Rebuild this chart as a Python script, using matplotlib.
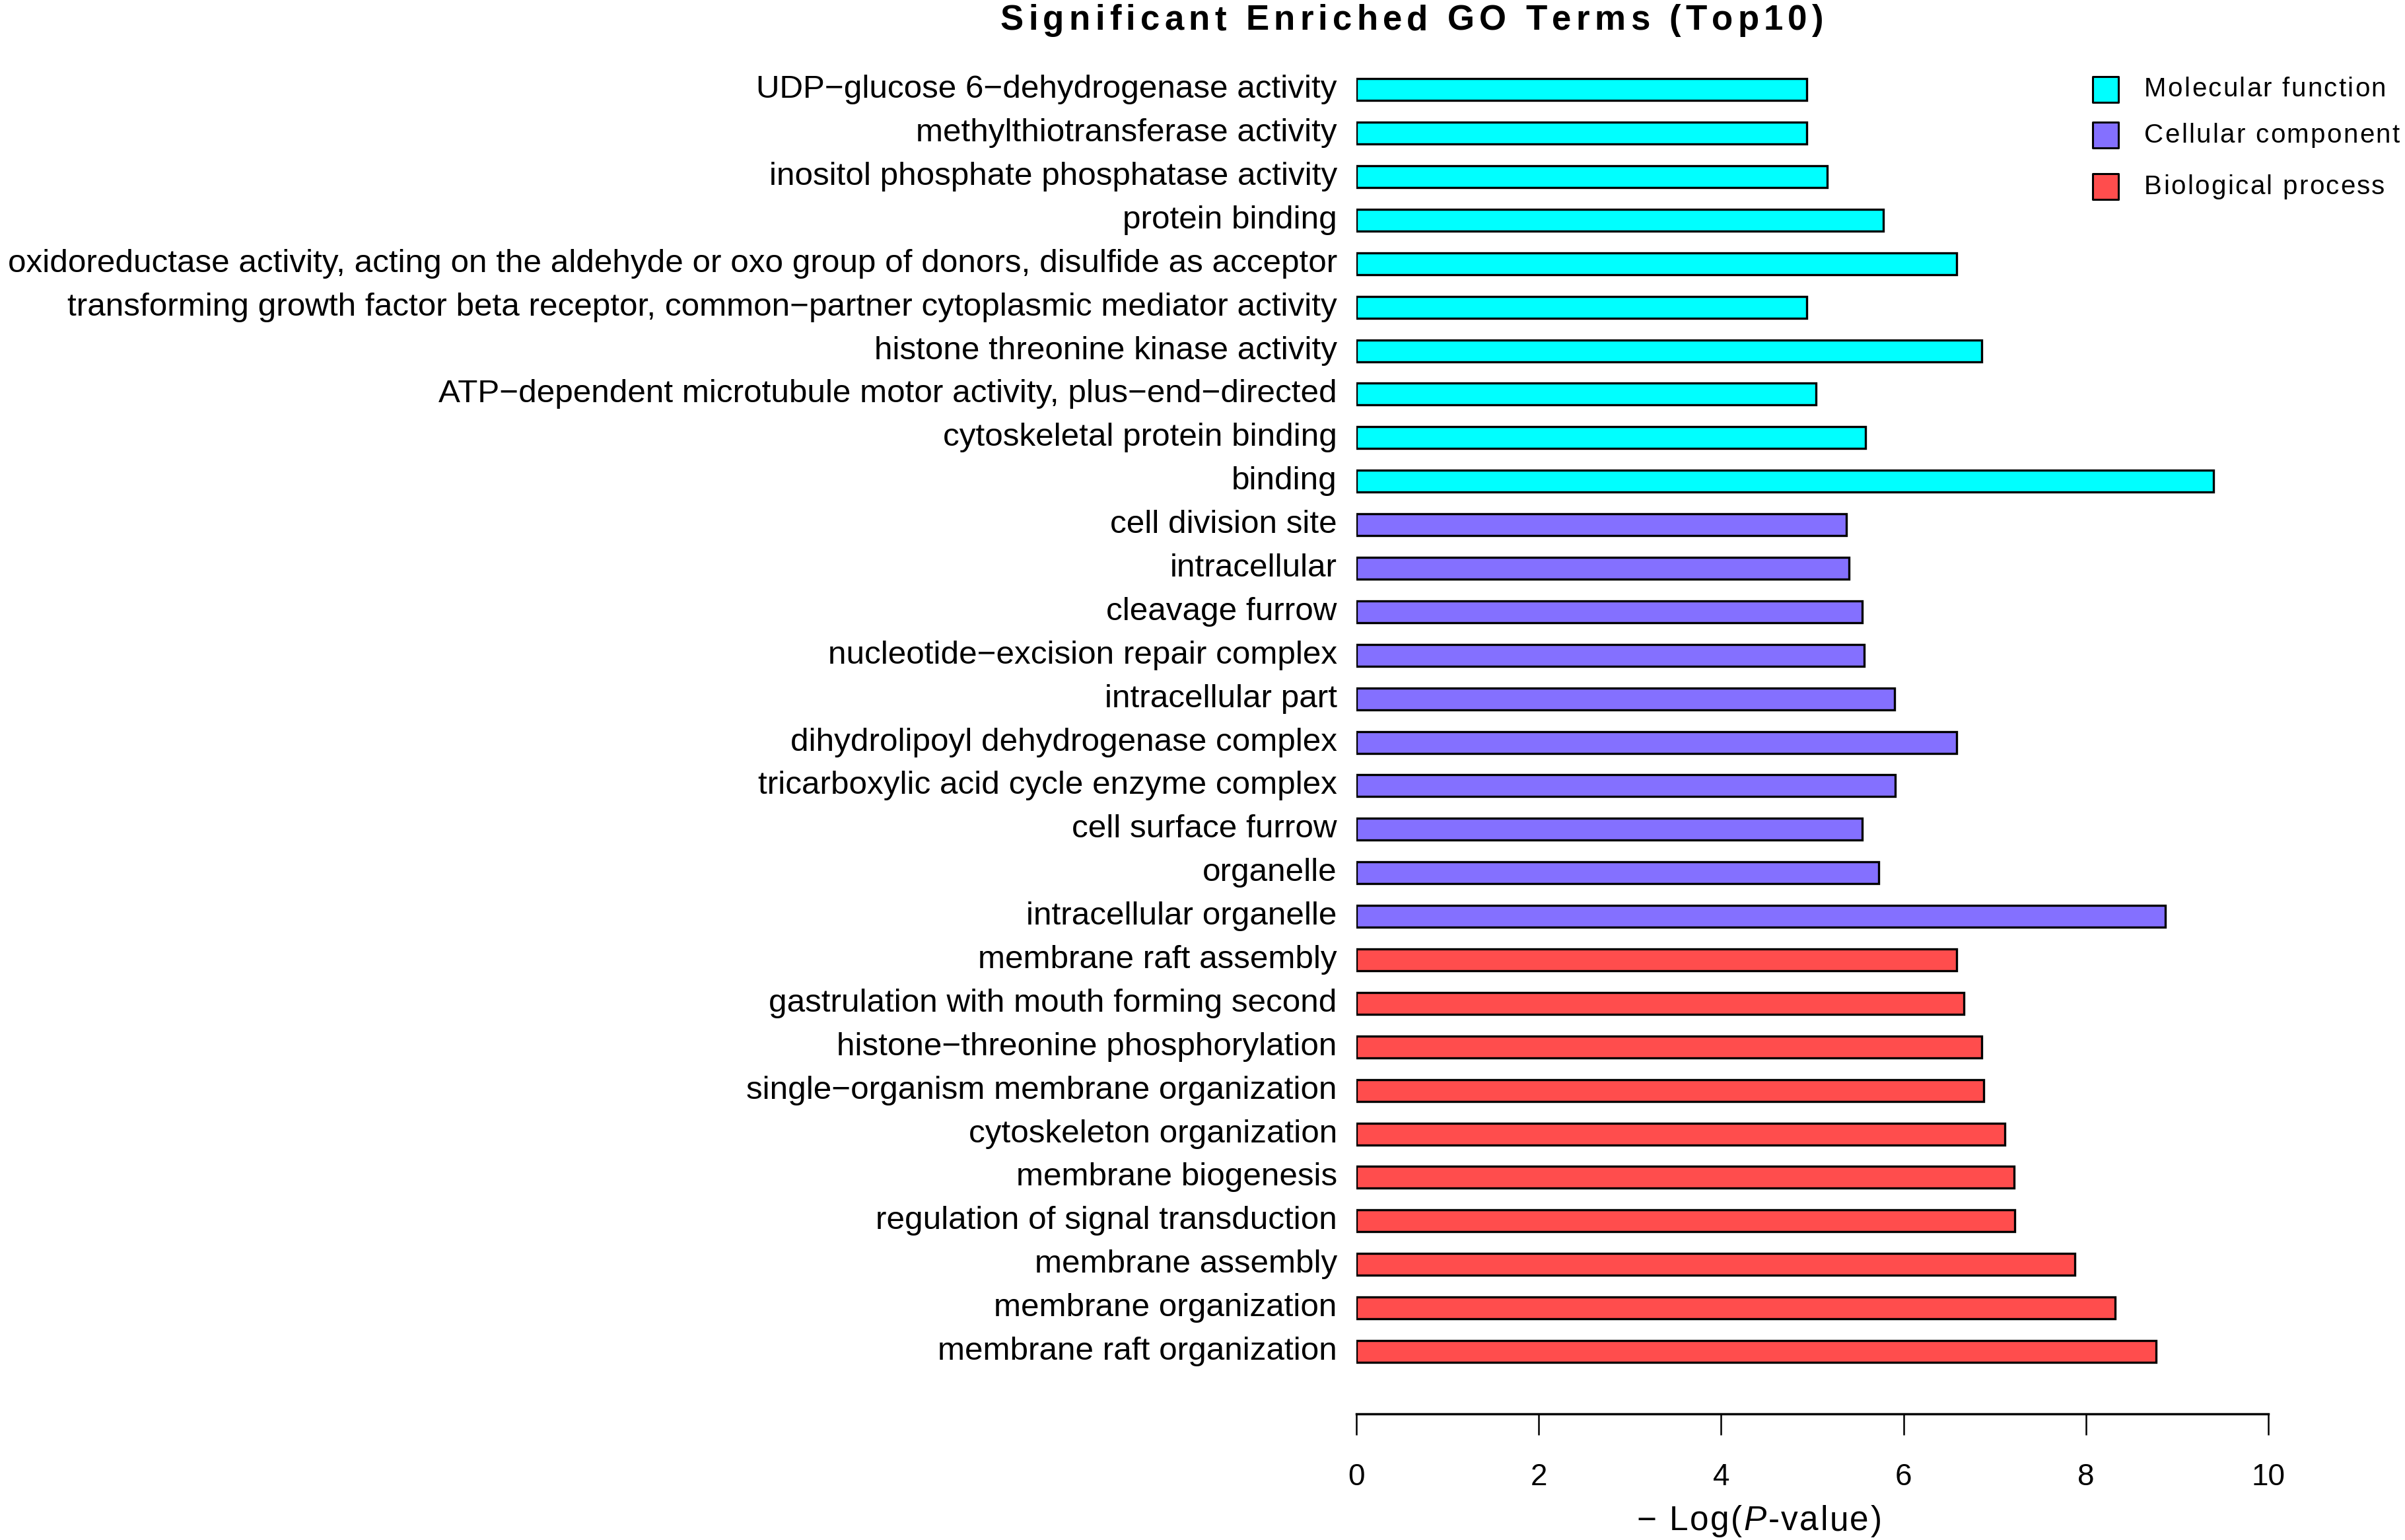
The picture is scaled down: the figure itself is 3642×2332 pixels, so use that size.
import matplotlib
matplotlib.use("Agg")
import matplotlib.pyplot as plt
from matplotlib.patches import Rectangle

# ---- données (de haut en bas) ----
mf_terms = [
    "UDP−glucose 6−dehydrogenase activity",
    "methylthiotransferase activity",
    "inositol phosphate phosphatase activity",
    "protein binding",
    "oxidoreductase activity, acting on the aldehyde or oxo group of donors, disulfide as acceptor",
    "transforming growth factor beta receptor, common−partner cytoplasmic mediator activity",
    "histone threonine kinase activity",
    "ATP−dependent microtubule motor activity, plus−end−directed",
    "cytoskeletal protein binding",
    "binding",
]
mf_values = [4.94, 4.94, 5.16, 5.78, 6.58, 4.94, 6.86, 5.04, 5.58, 9.40]

cc_terms = [
    "cell division site",
    "intracellular",
    "cleavage furrow",
    "nucleotide−excision repair complex",
    "intracellular part",
    "dihydrolipoyl dehydrogenase complex",
    "tricarboxylic acid cycle enzyme complex",
    "cell surface furrow",
    "organelle",
    "intracellular organelle",
]
cc_values = [5.37, 5.40, 5.55, 5.57, 5.90, 6.58, 5.91, 5.55, 5.73, 8.87]

bp_terms = [
    "membrane raft assembly",
    "gastrulation with mouth forming second",
    "histone−threonine phosphorylation",
    "single−organism membrane organization",
    "cytoskeleton organization",
    "membrane biogenesis",
    "regulation of signal transduction",
    "membrane assembly",
    "membrane organization",
    "membrane raft organization",
]
bp_values = [6.58, 6.66, 6.86, 6.88, 7.11, 7.21, 7.22, 7.88, 8.32, 8.77]

categories = ["Molecular function", "Cellular component", "Biological process"]
colors = ["#00FFFF", "#8470FF", "#FF4D4D"]
xticks = [0, 2, 4, 6, 8, 10]

# ---- mise en page (pixels de l'image cible) ----
W, H, DPI = 3642, 2332, 100
X0_PX, X10_PX = 2054, 3435       # position de 0 et 10 sur l'axe x
AXIS_Y_PX = 2141                 # ligne de l'axe x
TOP_BAR_PX, BOT_BAR_PX = 135.7, 2046.5
TOP_PX = 100

plt.rcParams["font.family"] = ["Liberation Sans", "DejaVu Sans"]

terms = mf_terms + cc_terms + bp_terms
values = mf_values + cc_values + bp_values
bar_colors = [colors[0]] * len(mf_terms) + [colors[1]] * len(cc_terms) + [colors[2]] * len(bp_terms)
n = len(terms)
ypos = list(range(n - 1, -1, -1))   # premier terme en haut

step = (BOT_BAR_PX - TOP_BAR_PX) / (n - 1)
ymin = -(AXIS_Y_PX - BOT_BAR_PX) / step
ymax = (n - 1) + (TOP_BAR_PX - TOP_PX) / step

fig = plt.figure(figsize=(W / DPI, H / DPI), dpi=DPI)
renderer = fig.canvas.get_renderer()


def char_width(ch, **kw):
    # avance d'un caractère, mesurée entre deux "|"
    t1 = fig.text(0, 0, "|" + ch + "|", **kw)
    t2 = fig.text(0, 0, "||", **kw)
    w = t1.get_window_extent(renderer).width - t2.get_window_extent(renderer).width
    t1.remove()
    t2.remove()
    return w


def spaced_text(x_px, y_px, parts, track, ha="left", **kw):
    # texte avec espacement des lettres (comme la sortie R d'origine)
    # parts : liste de (chaine, dict de style)
    chars = [(ch, {**kw, **st}) for s, st in parts for ch in s]
    widths = [char_width(ch, **st) for ch, st in chars]
    total = sum(widths) + track * (len(chars) - 1)
    x = x_px - (total / 2 if ha == "center" else 0)
    for (ch, st), w in zip(chars, widths):
        fig.text(x / W, 1 - y_px / H, ch, ha="left", **st)
        x += w + track


ax = fig.add_axes([X0_PX / W, 1 - AXIS_Y_PX / H,
                   (X10_PX - X0_PX) / W, (AXIS_Y_PX - TOP_PX) / H])

ax.barh(ypos, values, height=0.5, color=bar_colors,
        edgecolor="black", linewidth=2.4)

ax.set_xlim(0, 10)
ax.set_ylim(ymin, ymax)
ax.set_yticks(ypos)
ax.set_yticklabels(terms, fontsize=35.6)
for t in ax.get_yticklabels():
    t.set_va("center")
ax.tick_params(axis="y", length=0, pad=21)
ax.set_xticks(xticks)
ax.set_xticklabels([str(t) for t in xticks], fontsize=33)
ax.tick_params(axis="x", length=23, width=1.8, pad=30, direction="out")

for side in ["left", "right", "top"]:
    ax.spines[side].set_visible(False)
ax.spines["bottom"].set_linewidth(2.5)
ax.spines["bottom"].set_bounds(0, 10)

# titre et label x
spaced_text(2138, 45, [("Significant Enriched GO Terms (Top10)", {})], 7.3,
            ha="center", va="baseline", fontsize=38, fontweight="bold")
spaced_text(2664, 2317, [("− Log(", {}), ("P", {"style": "italic"}), ("-value)", {})], 2.5,
            ha="center", va="baseline", fontsize=37)

# légende
box = 39
for lab, col, yc in zip(categories, colors, [135.5, 204.5, 282.5]):
    r = Rectangle(((3188 - box / 2) / W, 1 - (yc + box / 2) / H), box / W, box / H,
                  transform=fig.transFigure, facecolor=col, edgecolor="black",
                  linewidth=2.2, joinstyle="round")
    fig.patches.append(r)
    spaced_text(3247, yc, [(lab, {})], 2.3, va="center", fontsize=29)

fig.savefig("out.png", dpi=DPI)
